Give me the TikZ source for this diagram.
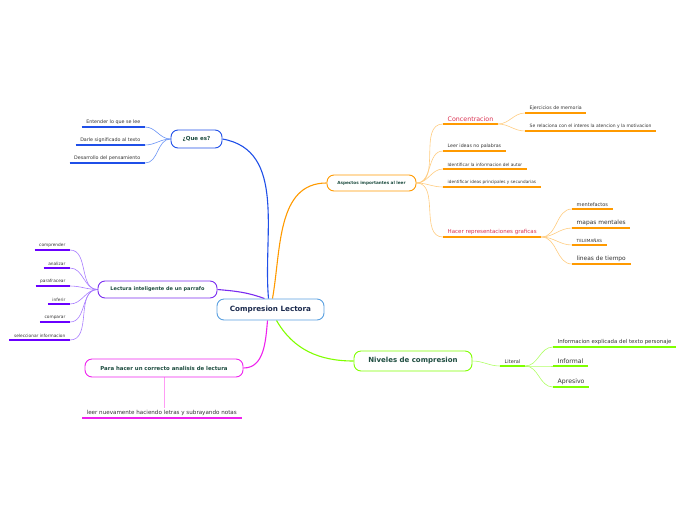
\documentclass[tikz,border=0pt]{standalone}
\usepackage{fontspec}
\setmainfont{DejaVu Sans}
\usetikzlibrary{backgrounds}
\newcommand\fsz[1]{\fontsize{#1}{#1}\selectfont}
\definecolor{cblue}{HTML}{1F4FE8}
\definecolor{cbluel}{HTML}{6A94F5}
\definecolor{corange}{HTML}{FF9A00}
\definecolor{corangel}{HTML}{FFCC80}
\definecolor{cpurple}{HTML}{7A2CF0}
\definecolor{cpurplel}{HTML}{A97EFF}
\definecolor{cpurpleu}{HTML}{6A00FF}
\definecolor{cmag}{HTML}{EE22EE}
\definecolor{cmagl}{HTML}{FF9CF5}
\definecolor{cgreen}{HTML}{80FF00}
\definecolor{cgreenl}{HTML}{B0FF66}
\definecolor{ccenter}{HTML}{5AA0E0}
\definecolor{boxtext}{HTML}{1E4D40}
\definecolor{centertext}{HTML}{1B2A4E}
\definecolor{leaftext}{HTML}{333333}
\definecolor{redtext}{HTML}{D9304F}
\tikzset{
  topic/.style={draw, rounded corners=7pt, fill=white, line width=0.9pt, align=center, font=\bfseries, text=boxtext, inner sep=0pt},
  leaf/.style={inner xsep=4.5pt, inner ysep=2pt, text=leaftext},
  ul/.style={line width=1.4pt},
  thin/.style={line width=0.6pt},
  main/.style={line width=1.1pt},
}
\begin{document}
\begin{tikzpicture}[x=1pt,y=-1pt]
\useasboundingbox (0,0) rectangle (696,520);
% topics
\node[topic, draw=ccenter, text=centertext, minimum width=107pt, minimum height=21pt, font=\bfseries\fsz{7.2}] (c) at (270.5,309.5) {Compresion Lectora};
\node[topic, draw=cblue, minimum width=51pt, minimum height=18pt, font=\bfseries\fsz{5.5}] (qe) at (196.5,139) {¿Que es?};
\node[topic, draw=corange, minimum width=89pt, minimum height=16pt, font=\bfseries\fsz{4.2}] (asp) at (371.5,183) {Aspectos importantes al leer};
\node[topic, draw=cpurple, minimum width=119pt, minimum height=17pt, font=\bfseries\fsz{5}] (lec) at (157.5,289.5) {Lectura inteligente de un parrafo};
\node[topic, draw=cmag, minimum width=158pt, minimum height=18pt, font=\bfseries\fsz{5.4}] (ph) at (164,368) {Para hacer un correcto analisis de lectura};
\node[topic, draw=cgreen, minimum width=118pt, minimum height=20pt, font=\bfseries\fsz{7}] (niv) at (413,361) {Niveles de compresion};

% Que es leaves
\node[leaf, anchor=south east, font=\fsz{4.8}] (q1) at (145,127) {Entender lo que se lee};
\node[leaf, anchor=south east, font=\fsz{4.8}] (q2) at (145,145) {Darle significado al texto};
\node[leaf, anchor=south east, font=\fsz{4.8}] (q3) at (145,163) {Desarrollo del pensamiento};
% Lectura leaves
\node[leaf, anchor=south east, font=\fsz{4.3}] (l1) at (70,250) {comprender};
\node[leaf, anchor=south east, font=\fsz{4.3}] (l2) at (70,268) {analizar};
\node[leaf, anchor=south east, font=\fsz{4.3}] (l3) at (70,286) {parafracear};
\node[leaf, anchor=south east, font=\fsz{4.3}] (l4) at (70,304) {inferir};
\node[leaf, anchor=south east, font=\fsz{4.3}] (l5) at (70,322) {comparar};
\node[leaf, anchor=south east, font=\fsz{4.3}] (l6) at (70,340) {seleccionar informacion};
% Para hacer leaf
\node[leaf, anchor=south west, font=\fsz{5.6}] (p1) at (82,418) {leer nuevamente haciendo letras y subrayando notas};
% Aspectos leaves
\node[leaf, anchor=south west, font=\fsz{6.3}, text=redtext] (a1) at (443,124) {Concentracion};
\node[leaf, anchor=south west, font=\fsz{4.7}] (a2) at (443,151) {Leer ideas no palabras};
\node[leaf, anchor=south west, font=\fsz{4.3}] (a3) at (443,169) {Identificar la informacion del autor};
\node[leaf, anchor=south west, font=\fsz{4.2}] (a4) at (443,187) {identificar ideas principales y secundarias};
\node[leaf, anchor=south west, font=\fsz{5.5}, text=redtext] (a5) at (443,237) {Hacer representaciones graficas};
\node[leaf, anchor=south west, font=\fsz{4.7}] (b1) at (525,113) {Ejercicios de memoria};
\node[leaf, anchor=south west, font=\fsz{4.5}] (b2) at (525,131) {Se relaciona con el interes la atencion y la motivacion};
\node[leaf, anchor=south west, font=\fsz{5}] (h1) at (572,209) {mentefactos};
\node[leaf, anchor=south west, font=\fsz{5.9}] (h2) at (572,228) {mapas mentales};
\node[leaf, anchor=south west, font=\fsz{4.2}] (h3) at (572,245) {TELEMAÑAS};
\node[leaf, anchor=south west, font=\fsz{5.9}] (h4) at (572,264) {lineas de tiempo};
% Niveles leaves
\node[leaf, anchor=south west, font=\fsz{5}] (n1) at (500,366) {Literal};
\node[leaf, anchor=south west, font=\fsz{5.4}] (m1) at (553,347) {Informacion explicada del texto personaje};
\node[leaf, anchor=south west, font=\fsz{6.2}] (m2) at (553,366) {Informal};
\node[leaf, anchor=south west, font=\fsz{6.2}] (m3) at (553,387) {Apresivo};

\begin{scope}[on background layer]
% main branches
\draw[main, cblue] ([xshift=-2pt]c.north) to[out=95,in=-10] (qe.east);
\draw[main, corange] ([xshift=2pt]c.north) to[out=80,in=180] (asp.west);
\draw[main, cpurple] ([xshift=-6pt]c.north) to[out=160,in=-5] (lec.east);
\draw[main, cmag] ([xshift=-3pt]c.south) to[out=-95,in=0] (ph.east);
\draw[main, cgreen] ([xshift=6pt]c.south) to[out=-60,in=180] (niv.west);
% blue leaves
\foreach \n in {q1,q2,q3} {
  \draw[thin, cbluel] (qe.west) to[out=180,in=0] (\n.south east);
  \draw[ul, cblue] (\n.south west) -- (\n.south east);
}
% purple leaves
\foreach \n in {l1,l2,l3,l4,l5,l6} {
  \draw[thin, cpurplel] (lec.west) to[out=180,in=0] (\n.south east);
  \draw[ul, cpurpleu] (\n.south west) -- (\n.south east);
}
% magenta leaf
\draw[thin, cmagl] (ph.south) -- (p1.north -| ph.south);
\draw[ul, cmag] (p1.south west) -- (p1.south east);
% orange leaves
\foreach \n in {a1,a2,a3,a4,a5} {
  \draw[thin, corangel] (asp.east) to[out=0,in=180] (\n.south west);
  \draw[ul, corange] (\n.south west) -- (\n.south east);
}
\foreach \n in {b1,b2} {
  \draw[thin, corangel] (a1.south east) to[out=0,in=180] (\n.south west);
  \draw[ul, corange] (\n.south west) -- (\n.south east);
}
\foreach \n in {h1,h2,h3,h4} {
  \draw[thin, corangel] (a5.south east) to[out=0,in=180] (\n.south west);
  \draw[ul, corange] (\n.south west) -- (\n.south east);
}
% green leaves
\draw[thin, cgreenl] (niv.east) to[out=0,in=180] (n1.south west);
\draw[ul, cgreen] (n1.south west) -- (n1.south east);
\foreach \n in {m1,m2,m3} {
  \draw[thin, cgreenl] (n1.south east) to[out=0,in=180] (\n.south west);
  \draw[ul, cgreen] (\n.south west) -- (\n.south east);
}
\end{scope}
\end{tikzpicture}
\end{document}
